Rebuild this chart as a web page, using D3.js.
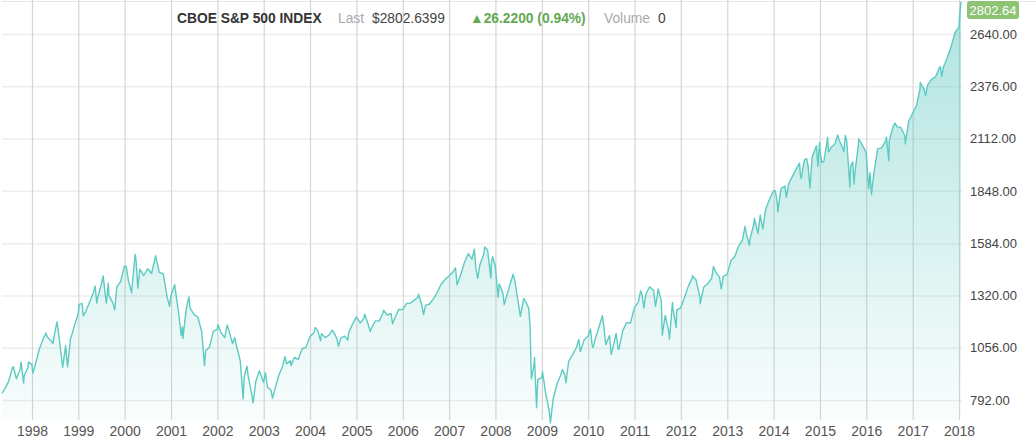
<!DOCTYPE html>
<html>
<head>
<meta charset="utf-8">
<script src="https://cdn.jsdelivr.net/npm/d3@7/dist/d3.min.js"></script>
<style>
  html, body { margin: 0; padding: 0; background: #fff; }
  svg { display: block; font-family: "Liberation Sans", Arial, Helvetica, sans-serif; }
</style>
</head>
<body>
<svg id="chart" width="1036" height="440"></svg>
<script>
// ---------- DATA ----------
const firstMonth = "1997-05";   // month of the first monthly close below
// S&P 500 month-end closes, May 1997 .. Dec 2017
const monthlyCloses = [
  848.28, 885.14, 954.29, 899.47, 947.28, 914.62, 955.40, 970.43,
  980.28, 1049.34, 1101.75, 1111.75, 1090.82, 1133.84, 1120.67, 957.28, 1017.01, 1098.67, 1163.63, 1229.23,
  1279.64, 1238.33, 1286.37, 1335.18, 1301.84, 1372.71, 1328.72, 1320.41, 1282.71, 1362.93, 1388.91, 1469.25,
  1394.46, 1366.42, 1498.58, 1452.43, 1420.60, 1454.60, 1430.83, 1517.68, 1436.51, 1429.40, 1314.95, 1320.28,
  1366.01, 1239.94, 1160.33, 1249.46, 1255.82, 1224.42, 1211.23, 1133.58, 1040.94, 1059.78, 1139.45, 1148.08,
  1130.20, 1106.73, 1147.39, 1076.92, 1067.14, 989.82, 911.62, 916.07, 815.28, 885.76, 936.31, 879.82,
  855.70, 841.15, 848.18, 916.92, 963.59, 974.50, 990.31, 1008.01, 995.97, 1050.71, 1058.20, 1111.92,
  1131.13, 1144.94, 1126.21, 1107.30, 1120.68, 1140.84, 1101.72, 1104.24, 1114.58, 1130.20, 1173.82, 1211.92,
  1181.27, 1203.60, 1180.59, 1156.85, 1191.50, 1191.33, 1234.18, 1220.33, 1228.81, 1207.01, 1249.48, 1248.29,
  1280.08, 1280.66, 1294.87, 1310.61, 1270.09, 1270.20, 1276.66, 1303.82, 1335.85, 1377.94, 1400.63, 1418.30,
  1438.24, 1406.82, 1420.86, 1482.37, 1530.62, 1503.35, 1455.27, 1473.99, 1526.75, 1549.38, 1481.14, 1468.36,
  1378.55, 1330.63, 1322.70, 1385.59, 1400.38, 1280.00, 1267.38, 1282.83, 1166.36, 968.75, 896.24, 903.25,
  825.88, 735.09, 797.87, 872.81, 919.14, 919.32, 987.48, 1020.62, 1057.08, 1036.19, 1095.63, 1115.10,
  1073.87, 1104.49, 1169.43, 1186.69, 1089.41, 1030.71, 1101.60, 1049.33, 1141.20, 1183.26, 1180.55, 1257.64,
  1286.12, 1327.22, 1325.83, 1363.61, 1345.20, 1320.64, 1292.28, 1218.89, 1131.42, 1253.30, 1246.96, 1257.60,
  1312.41, 1365.68, 1408.47, 1397.91, 1310.33, 1362.16, 1379.32, 1406.58, 1440.67, 1412.16, 1416.18, 1426.19,
  1498.11, 1514.68, 1569.19, 1597.57, 1630.74, 1606.28, 1685.73, 1632.97, 1681.55, 1756.54, 1805.81, 1848.36,
  1782.59, 1859.45, 1872.34, 1883.95, 1923.57, 1960.23, 1930.67, 2003.37, 1972.29, 2018.05, 2067.56, 2058.90,
  1994.99, 2104.50, 2067.89, 2085.51, 2107.39, 2063.11, 2103.84, 1972.18, 1920.03, 2079.36, 2080.41, 2043.94,
  1940.24, 1932.23, 2059.74, 2065.30, 2096.95, 2098.86, 2173.60, 2170.95, 2168.27, 2126.15, 2198.81, 2238.83,
  2278.87, 2363.64, 2362.72, 2384.20, 2411.80, 2423.41, 2470.30, 2471.65, 2519.36, 2575.26, 2647.58, 2673.61
];
// Intra-month turning points
const swingDates = [
  "1997-05-09","1997-08-07","1997-10-07","1997-10-27","1997-12-05",
  "1998-01-09","1998-04-21","1998-06-15","1998-07-17","1998-09-23","1998-10-08",
  "1999-01-08","1999-02-09","1999-05-13","1999-05-27","1999-07-16","1999-08-10","1999-08-25","1999-10-15",
  "2000-01-14","2000-02-25","2000-03-24","2000-04-14","2000-09-01","2000-12-20",
  "2001-01-30","2001-03-22","2001-04-04","2001-05-21","2001-09-21",
  "2002-01-04","2002-03-19","2002-05-17","2002-07-23","2002-08-22","2002-10-09","2002-11-27",
  "2003-01-14","2003-03-11","2003-06-17","2003-08-05",
  "2004-02-11","2004-03-24","2004-06-23","2004-08-12","2004-10-25",
  "2005-03-07","2005-04-20","2005-08-02","2005-10-13",
  "2006-05-05","2006-06-13",
  "2007-02-20","2007-03-05","2007-07-19","2007-08-15","2007-10-09","2007-11-26","2007-12-10",
  "2008-01-22","2008-03-10","2008-05-19","2008-07-15","2008-08-11","2008-09-19","2008-10-10","2008-11-04","2008-11-20",
  "2009-01-06","2009-03-09","2009-06-12","2009-07-10","2009-10-19",
  "2010-01-19","2010-02-08","2010-04-23","2010-05-20","2010-06-18","2010-07-02","2010-08-09","2010-08-26",
  "2011-02-18","2011-03-16","2011-06-15","2011-07-07","2011-08-08","2011-10-03","2011-10-27","2011-11-25",
  "2012-04-02","2012-06-01","2012-09-14","2012-11-15",
  "2013-05-21","2013-06-24","2013-08-02","2013-09-18","2013-10-08",
  "2014-01-15","2014-02-03","2014-04-11","2014-07-24","2014-08-07","2014-09-18","2014-10-15","2014-12-05","2014-12-16","2014-12-29",
  "2015-01-15","2015-03-02","2015-03-10","2015-05-21","2015-07-08","2015-07-20","2015-08-25","2015-09-16","2015-09-28","2015-11-03",
  "2016-01-20","2016-02-11","2016-06-08","2016-06-27","2016-08-15","2016-11-04",
  "2017-03-01","2017-04-13","2017-08-08","2017-08-18",
  "2018-01-08","2018-01-17"
];
const swingValues = [
  824.78, 960.32, 983.12, 876.99, 983.79,
  927.69, 1130.50, 1077.01, 1186.75, 1066.09, 959.44,
  1275.09, 1216.14, 1367.56, 1281.41, 1418.78, 1281.43, 1381.79, 1247.41,
  1465.15, 1333.36, 1527.46, 1356.56, 1520.77, 1264.74,
  1373.73, 1117.58, 1103.25, 1312.83, 965.80,
  1172.51, 1170.29, 1106.59, 797.70, 962.70, 776.76, 938.87,
  931.66, 800.73, 1011.66, 965.46,
  1157.76, 1091.33, 1144.06, 1063.23, 1094.81,
  1225.31, 1137.50, 1245.04, 1176.84,
  1325.76, 1223.69,
  1459.68, 1374.12, 1553.08, 1406.70, 1565.15, 1407.22, 1515.96,
  1310.50, 1273.37, 1426.63, 1214.91, 1305.32, 1255.08, 899.22, 1005.75, 752.44,
  934.70, 676.53, 946.21, 879.13, 1097.91,
  1150.23, 1056.74, 1217.28, 1071.59, 1117.51, 1022.58, 1127.79, 1047.22,
  1343.01, 1256.88, 1265.42, 1353.22, 1119.46, 1099.23, 1284.59, 1158.67,
  1419.04, 1278.04, 1465.77, 1353.33,
  1669.16, 1573.09, 1709.67, 1725.52, 1655.45,
  1848.38, 1741.89, 1815.69, 1987.98, 1909.57, 2011.36, 1862.49, 2075.37, 1972.74, 2090.57,
  1992.67, 2117.39, 2044.16, 2130.82, 2046.68, 2128.28, 1867.61, 1995.31, 1881.77, 2109.79,
  1859.33, 1829.08, 2119.12, 2000.54, 2190.15, 2085.18,
  2395.96, 2328.95, 2474.92, 2425.55,
  2747.71, 2802.64
];
const yearTicks = ["1998","1999","2000","2001","2002","2003","2004","2005","2006","2007",
                   "2008","2009","2010","2011","2012","2013","2014","2015","2016","2017","2018"];
const valueTicks = [792, 1056, 1320, 1584, 1848, 2112, 2376, 2640];
const headerName = "CBOE S&P 500 INDEX";
const headerLast = "$2802.6399";
const headerChange = "\u25B226.2200 (0.94%)";
const headerVolume = "0";

// ---------- BUILD SERIES ----------
const parseDay = d3.timeParse("%Y-%m-%d");
const parseMonth = d3.timeParse("%Y-%m");
const m0 = parseMonth(firstMonth);
const series = [];
monthlyCloses.forEach((v, i) => {
  const start = d3.timeMonth.offset(m0, i);
  const end = new Date(start.getFullYear(), start.getMonth() + 1, 0); // last day of month
  series.push({ date: end, value: v });
});
swingDates.forEach((d, i) => series.push({ date: parseDay(d), value: swingValues[i] }));
series.sort((a, b) => a.date - b.date);

// ---------- LAYOUT ----------
const svg = d3.select("#chart");
const plotLeft = 2, plotRight = 962, plotTop = 0, plotBottom = 420;

const x = d3.scaleTime()
  .domain([new Date(1998, 0, 1), new Date(2018, 0, 1)])
  .range([32, 959]);
const y = d3.scaleLinear()
  .domain([792, 2640])
  .range([400, 34]);

// gradient
const defs = svg.append("defs");
const grad = defs.append("linearGradient")
  .attr("id", "areaGrad").attr("gradientUnits", "userSpaceOnUse")
  .attr("x1", 0).attr("x2", 0).attr("y1", plotTop).attr("y2", plotBottom);
grad.append("stop").attr("offset", "0%").attr("stop-color", "#4fc3b9").attr("stop-opacity", 0.46);
grad.append("stop").attr("offset", "100%").attr("stop-color", "#4fc3b9").attr("stop-opacity", 0.03);

// top border
svg.append("line")
  .attr("x1", plotLeft).attr("x2", 1036).attr("y1", 1.5).attr("y2", 1.5)
  .attr("stroke", "#e6e6e6").attr("stroke-width", 1);

// horizontal grid + right axis labels
const yAxis = d3.axisRight(y)
  .tickValues(valueTicks)
  .tickFormat(d3.format(".2f"))
  .tickSize(-(plotRight - plotLeft))
  .tickPadding(8);
const gy = svg.append("g").attr("transform", `translate(${plotRight},0)`).call(yAxis);
gy.select(".domain").remove();
gy.selectAll(".tick line").attr("stroke", "#ededed").attr("stroke-width", 1.5);
gy.selectAll(".tick text")
  .attr("fill", "#444").attr("font-size", "13px")
  .attr("font-family", "'Liberation Sans', Arial, sans-serif");

// vertical grid + year labels
const yearDates = yearTicks.map(t => new Date(+t, 0, 1));
const xAxis = d3.axisBottom(x)
  .tickValues(yearDates)
  .tickFormat((d, i) => yearTicks[i])
  .tickSize(plotBottom - plotTop)
  .tickPadding(6);
const gx = svg.append("g").attr("transform", `translate(0,${plotTop})`).call(xAxis);
gx.select(".domain").remove();
gx.selectAll(".tick line").attr("stroke", "#d6d6d6").attr("stroke-width", 1.2);
gx.selectAll(".tick text")
  .attr("fill", "#555").attr("font-size", "14px")
  .attr("font-family", "'Liberation Sans', Arial, sans-serif");

// area + line
const area = d3.area()
  .x(d => x(d.date)).y0(plotBottom).y1(d => y(d.value));
const line = d3.line()
  .x(d => x(d.date)).y(d => y(d.value));

svg.append("path").datum(series)
  .attr("d", area).attr("fill", "url(#areaGrad)");
svg.append("path").datum(series)
  .attr("d", line).attr("fill", "none")
  .attr("stroke", "#5ccbc2").attr("stroke-width", 1.4)
  .attr("stroke-linejoin", "round");

// header
const hy = 23;
const hdr = svg.append("g").attr("font-size", "13.8px");
hdr.append("text").attr("x", 177).attr("y", hy).attr("font-weight", "bold").attr("fill", "#333").text(headerName);
hdr.append("text").attr("x", 338).attr("y", hy).attr("fill", "#aaa").text("Last");
hdr.append("text").attr("x", 372).attr("y", hy).attr("fill", "#444").text(headerLast);
hdr.append("text").attr("x", 470).attr("y", hy).attr("font-weight", "bold").attr("fill", "#64a851").text(headerChange);
hdr.append("text").attr("x", 604).attr("y", hy).attr("fill", "#aaa").text("Volume");
hdr.append("text").attr("x", 658).attr("y", hy).attr("fill", "#444").text(headerVolume);

// last value badge
const lastPt = series[series.length - 1];
const by = Math.max(y(lastPt.value), 10);
svg.append("rect")
  .attr("x", 967).attr("y", by - 9).attr("width", 52).attr("height", 18)
  .attr("rx", 3).attr("fill", "#8cc474");
svg.append("text")
  .attr("x", 993).attr("y", by).attr("dy", "0.35em")
  .attr("text-anchor", "middle").attr("fill", "#fff").attr("font-size", "13px")
  .text(d3.format(".2f")(lastPt.value));
</script>
</body>
</html>
